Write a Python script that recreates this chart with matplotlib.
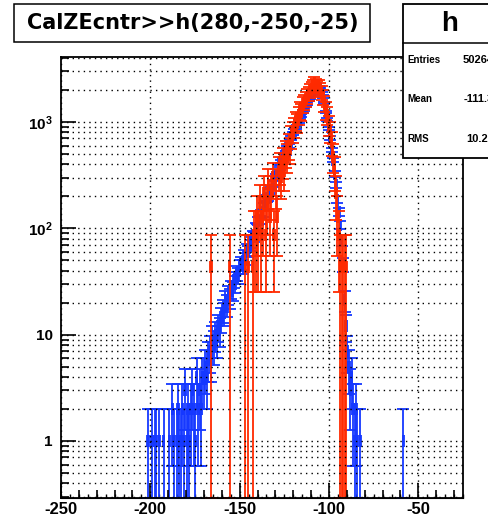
import numpy as np
import matplotlib
matplotlib.use("Agg")
import matplotlib.pyplot as plt
from matplotlib.patches import Rectangle
from matplotlib.lines import Line2D
from matplotlib.ticker import MultipleLocator, LogLocator, NullFormatter

plt.rcParams['font.family'] = 'Liberation Sans'
plt.rcParams['font.weight'] = 'bold'
plt.rcParams['mathtext.fontset'] = 'custom'
plt.rcParams['mathtext.rm'] = 'Liberation Sans:bold'
plt.rcParams['mathtext.it'] = 'Liberation Sans:bold'
plt.rcParams['mathtext.bf'] = 'Liberation Sans:bold'
plt.rcParams['axes.unicode_minus'] = False

# h(280,-250,-25)
n_bins = 280
x_lo, x_hi = -250.0, -25.0

# blue histogram: raw entries, bins 60 .. 240
blue_first = 60
blue_counts = [
    1, 0, 0, 1, 0, 1, 1, 0, 1, 0, 0, 1, 0, 0, 0,
    1, 0, 2, 1, 0, 1, 2, 1,
    1, 2, 1, 3, 1, 2, 1, 2,
    3, 2, 1, 4, 2, 3, 2, 4,
    4, 5, 4, 6, 7, 6, 9, 8, 10, 9, 12, 11,
    14, 17, 16, 21, 19, 24, 22, 27, 26, 33, 30, 38, 36, 44,
    47, 44, 55, 52, 63, 61, 74, 70, 86, 84, 101, 99, 118,
    120, 138, 141, 162, 166, 190, 196, 221, 229, 260, 270, 305,
    318, 355, 371, 415, 438, 487, 512, 570, 600, 667, 705, 780, 826,
    885, 962, 1004, 1093, 1150, 1248, 1310, 1420, 1490, 1615, 1700, 1835,
    1890, 1990, 2030, 2100, 2120, 2070,
    1960, 1740, 1510, 1240, 1060, 870,
    705, 545, 438, 325, 255, 186,
    142, 108, 77, 46, 21, 12, 7,
    5, 3, 4, 2, 1, 2, 1,
    0, 1, 0, 0, 0, 0, 0, 0, 0, 0, 0, 0, 0, 0, 0, 0, 0,
    0, 0, 0, 0, 0, 0, 0, 0, 0, 0, 0, 0, 0, 0, 1, 0, 0,
]

# red histogram: raw entries (each weighted), bins 104 .. 198
red_first = 104
red_counts = [
    1, 0, 0, 0, 0, 0, 0, 0, 0, 0, 0, 0, 0, 1, 0, 0, 0, 0, 0, 0,
    0, 0, 0, 0, 1, 0, 1, 0, 0, 1,
    2, 2, 3, 2, 4, 2, 3, 5, 2, 4,
    6, 3, 5, 7, 2, 6, 3, 8, 9, 7,
    10, 8, 12, 11, 14, 13, 17, 19, 21, 24,
    23, 27, 30, 29, 34, 36, 38, 41, 43, 46,
    48, 51, 54, 52, 50, 51, 47, 44, 40, 35,
    30, 27, 22, 19, 15, 11, 8, 5, 3, 2,
    1, 1, 1, 1, 1,
]
red_weight = 43.0

stat_labels = ['Entries', 'Mean', 'RMS']
stat_values = ['50264', '-111.3', '10.26']

y_min, y_max = 0.291, 4085.0
W, H = 488, 523


def fx(px):
    return px / W


def fy(py):
    return 1 - py / H


def draw_hist(ax, first, counts, weight, color):
    bw = (x_hi - x_lo) / n_bins
    n = np.array(counts, dtype=float)
    idx = np.arange(first, first + len(n))
    keep = n > 0
    xc = x_lo + (idx[keep] + 0.5) * bw
    val = n[keep] * weight
    err = np.sqrt(n[keep]) * weight
    lower = np.minimum(err, val - y_min)
    ax.errorbar(xc, val, xerr=bw / 2, yerr=[lower, err], fmt='none',
                ecolor=color, elinewidth=1.3, capsize=4, capthick=1.3)


fig = plt.figure(figsize=(W / 100, H / 100), dpi=100)
ax = fig.add_axes([fx(61), fy(498), (463 - 61) / W, (498 - 57) / H])

draw_hist(ax, blue_first, blue_counts, 1.0, '#1538ff')
draw_hist(ax, red_first, red_counts, red_weight, '#ff2a00')

ax.set_xlim(x_lo, x_hi)
ax.set_yscale('log')
ax.set_ylim(y_min, y_max)

ax.xaxis.set_major_locator(MultipleLocator(50))
ax.xaxis.set_minor_locator(MultipleLocator(10))
ax.set_xticks([-250, -200, -150, -100, -50],
              labels=['-250', '-200', '-150', '-100', '-50'])
ax.set_yticks([1, 10, 100, 1000], labels=['1', '10', r'$10^{2}$', r'$10^{3}$'])
ax.yaxis.set_minor_locator(LogLocator(base=10, subs=range(2, 10)))
ax.yaxis.set_minor_formatter(NullFormatter())

ax.tick_params(which='both', direction='in', top=False, right=False, width=1.2)
ax.tick_params(which='major', length=11)
ax.tick_params(which='minor', length=6)
ax.tick_params(axis='x', pad=3, labelsize=12)
ax.tick_params(axis='y', pad=6, labelsize=11)

sec = ax.secondary_xaxis('bottom')
sec.xaxis.set_major_locator(MultipleLocator(5))
sec.tick_params(direction='in', length=3, width=1.0, labelbottom=False)

ax.set_axisbelow(False)
ax.grid(True, which='major', axis='x', color='black', lw=1.0, ls=(0, (1, 3)))
ax.grid(True, which='both', axis='y', color='black', lw=1.0, ls=(0, (1, 3)))
for s in ax.spines.values():
    s.set_linewidth(1.3)

# title box
fig.add_artist(Rectangle((fx(14), fy(42)), (370 - 14) / W, (42 - 4) / H,
                         transform=fig.transFigure, fc='white', ec='black', lw=1.1))
fig.text(fx(193), fy(23), 'CalZEcntr>>h(280,-250,-25)', family='DejaVu Sans',
         weight='bold', fontsize=15, ha='center', va='center')

# stats box (cut off by the right edge, as in the original canvas)
fig.add_artist(Rectangle((fx(403), fy(158)), (497 - 403) / W, (158 - 4) / H,
                         transform=fig.transFigure, fc='white', ec='black', lw=1.3))
fig.add_artist(Line2D([fx(403), fx(497)], [fy(43), fy(43)],
                      transform=fig.transFigure, color='black', lw=1.1))
fig.text(fx(450), fy(24), 'h', fontsize=20, weight='bold', ha='center', va='center')
for k, (lab, v) in enumerate(zip(stat_labels, stat_values)):
    yy = fy(60 + 39.5 * k)
    fig.text(fx(407), yy, lab, fontsize=7, weight='bold', ha='left', va='center')
    fig.text(fx(494), yy, v, fontsize=8, weight='bold', ha='right', va='center')

fig.savefig('out.png', dpi=100)
